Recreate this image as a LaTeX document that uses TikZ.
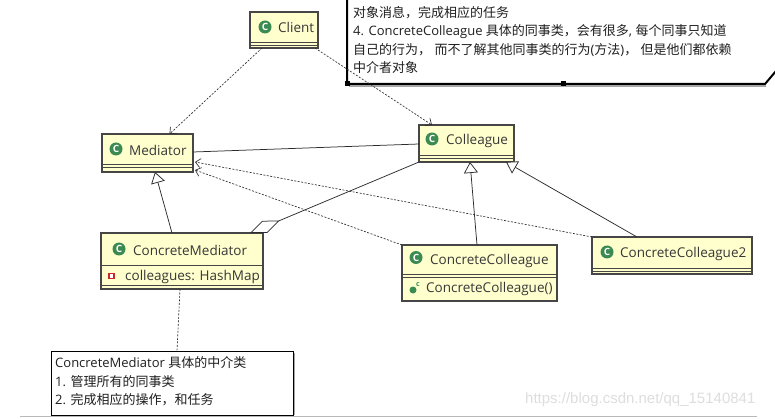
\documentclass[tikz,border=0pt]{standalone}
\usepackage{fontspec}
\setmainfont{Open Sans}
\newfontfamily\cjk{Noto Sans CJK SC}
\newfontfamily\wmfont{Liberation Sans}
\usetikzlibrary{arrows.meta,calc}
\definecolor{boxfill}{RGB}{255,255,206}
\definecolor{boxline}{RGB}{70,70,70}
\definecolor{icongreen}{RGB}{58,138,82}
\definecolor{umltext}{RGB}{55,55,55}
\definecolor{linecol}{RGB}{45,45,45}
\definecolor{wmgray}{RGB}{222,222,222}
\definecolor{privred}{RGB}{205,40,40}
\newcommand\zh[1]{{\cjk #1}}
\tikzset{
  umlbox/.style={draw=boxline, fill=boxfill, line width=1.1pt, inner sep=0pt, outer sep=0pt, anchor=north west, rectangle},
  compline/.style={draw=boxline, line width=0.9pt},
  umlname/.style={anchor=west, inner sep=0pt, text=umltext, font=\fontsize{13.5}{16}\selectfont},
  cicon/.style={circle, fill=icongreen, minimum size=13pt, inner sep=0pt, text=white, font=\fontsize{10}{10}\selectfont\bfseries},
  privicon/.style={rectangle, draw=privred, fill=white, line width=1.4pt, minimum size=5pt, inner sep=0pt},
  methicon/.style={circle, fill=icongreen, minimum size=7pt, inner sep=0pt},
  conn/.style={draw=linecol, line width=0.75pt},
  dep/.style={conn, line width=0.65pt, dash pattern=on 2pt off 1.5pt, -{Straight Barb[length=5pt,width=9pt]}},
  gen/.style={conn, -{Triangle[open, fill=white, length=11pt, width=14pt]}},
  agg/.style={conn, -{Diamond[open, fill=white, length=32pt, width=13pt]}},
  notelink/.style={conn, line width=0.65pt, dash pattern=on 2pt off 1.5pt},
  notetext/.style={anchor=west, inner sep=0pt, text=black!88, font=\fontsize{13}{15}\selectfont},
}
\begin{document}
\begin{tikzpicture}[x=1pt,y=-1pt]
\useasboundingbox (0,0) rectangle (775,419);
\fill[white] (0,0) rectangle (775,419);

% ---------- top note ----------
\node[inner sep=0pt, outer sep=0pt, minimum width=430pt, minimum height=104pt, anchor=south west] (note1) at (347,84) {};
\draw[gray!70, line width=2pt] ($(note1.south west)+(2,2.5)$) -- ($(note1.south west)+(419,2.5)$);
\draw[black, line width=2pt] ($(note1.south west)+(0,-104)$) -- (note1.south west) -- ($(note1.south west)+(418,0)$) -- ($(note1.south west)+(429,-13)$);
\fill[black] ($(note1.south west)+(-2.5,-2.5)$) rectangle ($(note1.south west)+(2.5,2.5)$);
\fill[black] ($(note1.south west)+(213.5,-2.5)$) rectangle ($(note1.south west)+(218.5,2.5)$);
\node[notetext] (n1a) at (353,13) {\zh{对象消息，完成相应的任务}};
\node[notetext] (n1b) at (353,32) {4. ConcreteColleague \zh{具体的同事类，会有很多}, \zh{每个同事只知道}};
\node[notetext] (n1c) at (353,50) {\zh{自己的行为，} \zh{而不了解其他同事类的行为}(\zh{方法})\zh{，} \zh{但是他们都依赖}};
\node[notetext] (n1d) at (353,68) {\zh{中介者对象}};

% ---------- classes ----------
\node[umlbox, minimum width=68pt, minimum height=36pt] (client) at (250,12) {};
\draw[compline] (250,42) -- (318,42) (250,45) -- (318,45);
\node[cicon] (clienticon) at (265,27) {C};
\node[umlname] (clientname) at (278,27.5) {Client};

\node[umlbox, minimum width=91pt, minimum height=38pt] (mediator) at (102,134) {};
\draw[compline] (102,164) -- (193,164) (102,167.5) -- (193,167.5);
\node[cicon] (medicon) at (116,149) {C};
\node[umlname] (medname) at (129,150) {Mediator};

\node[umlbox, minimum width=162pt, minimum height=56pt] (cmed) at (101,233) {};
\draw[compline] (101,265) -- (263,265) (101,285) -- (263,285);
\node[cicon] (cmedicon) at (119,249) {C};
\node[umlname] (cmedname) at (133,250) {ConcreteMediator};
\node[privicon] (privicon) at (111.5,276) {};
\node[umlname] (cmedattr) at (125,277) {colleagues: HashMap};

\node[umlbox, minimum width=95pt, minimum height=37pt] (colleague) at (419,125) {};
\draw[compline] (419,155) -- (514,155) (419,158.5) -- (514,158.5);
\node[cicon] (colicon) at (432,139) {C};
\node[umlname] (colname) at (446,141) {Colleague};

\node[umlbox, minimum width=155pt, minimum height=56pt] (ccol) at (402,245) {};
\draw[compline] (402,274) -- (557,274) (402,277.5) -- (557,277.5);
\node[cicon] (ccolicon) at (416,257.5) {C};
\node[umlname] (ccolname) at (430,261) {ConcreteColleague};
\node[methicon] (ccolmicon) at (413,290) {};
\node[anchor=center, inner sep=0pt, text=icongreen, font=\fontsize{7}{7}\selectfont\bfseries] (ccolmc) at (418,285) {c};
\node[umlname] (ccolmeth) at (426,289) {ConcreteColleague()};

\node[umlbox, minimum width=160pt, minimum height=37pt] (ccol2) at (592,237) {};
\draw[compline] (592,268) -- (752,268) (592,271) -- (752,271);
\node[cicon] (ccol2icon) at (607,252) {C};
\node[umlname] (ccol2name) at (620,254) {ConcreteColleague2};

% ---------- bottom note ----------
\node[draw=black, line width=0.8pt, inner sep=0pt, outer sep=0pt, minimum width=242pt, minimum height=64pt, anchor=north west] (note2) at (51,351) {};
\draw[gray!70, line width=1.2pt] ($(note2.north east)+(1.5,2)$) -- ($(note2.south east)+(1.5,0)$);
\node[notetext] (n2a) at (55,363) {ConcreteMediator \zh{具体的中介类}};
\node[notetext] (n2b) at (55,382) {1. \zh{管理所有的同事类}};
\node[notetext] (n2c) at (55,400) {2. \zh{完成相应的操作，和任务}};

% ---------- connectors ----------
\draw[dep] ($(client.south west)+(12,0)$) -- ($(mediator.north)+(22,0)$);
\draw[dep] ($(client.south east)+(-3,0)$) -- ($(colleague.north west)+(13,0)$);
\draw[conn] ($(mediator.east)+(0,-1)$) -- ($(colleague.west)+(0,0.5)$);
\draw[gen] ($(cmed.north)+(-10,0)$) -- ($(mediator.south)+(7.5,0)$);
\draw[agg] (colleague.south west) -- ($(cmed.north east)+(-13,0)$);
\draw[gen] ($(ccol.north)+(-2.5,0)$) -- ($(colleague.south)+(3.5,0)$);
\draw[gen] ($(ccol2.north)+(-35,0)$) -- ($(colleague.south east)+(-8,0)$);
\draw[dep] (ccol.north west) -- ($(mediator.east)+(2,17)$);
\draw[dep] (ccol2.north west) -- ($(mediator.east)+(2,9)$);
\draw[notelink] ($(cmed.south)+(-2,0)$) -- ($(note2.north)+(5,0)$);

% ---------- watermark and window edge ----------
\node[anchor=west, inner sep=0pt, text=wmgray, font=\wmfont\fontsize{15}{17}\selectfont] (wm) at (525,400) {https://blog.csdn.net/qq\_15140841};
\draw[gray!55, line width=1pt] (20,416.8) -- (757,416.8);
\end{tikzpicture}
\end{document}
